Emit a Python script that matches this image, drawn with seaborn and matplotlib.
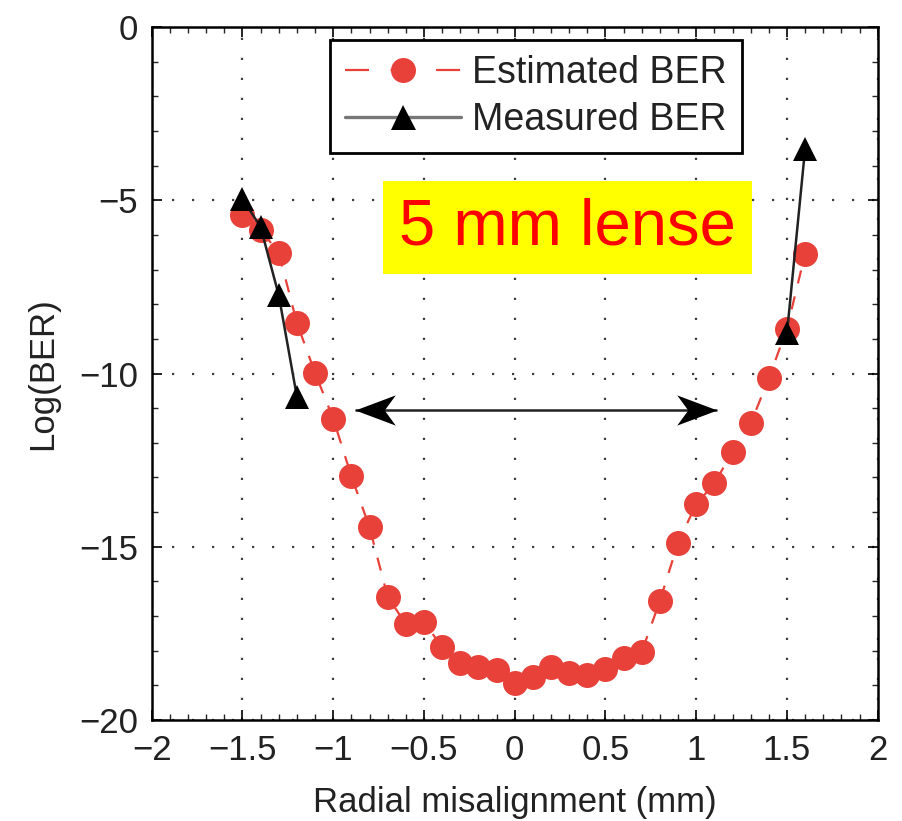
import numpy as np
import pandas as pd
import matplotlib
matplotlib.use("Agg")
import matplotlib.pyplot as plt
from matplotlib.lines import Line2D
from matplotlib.path import Path
from matplotlib.ticker import MultipleLocator
import seaborn as sns

# ---- data ----
est_x = [-1.5, -1.4, -1.3, -1.2, -1.1, -1.0, -0.9, -0.8, -0.7, -0.6, -0.5, -0.4,
         -0.3, -0.2, -0.1, 0.0, 0.1, 0.2, 0.3, 0.4, 0.5, 0.6, 0.7, 0.8, 0.9, 1.0,
         1.1, 1.2, 1.3, 1.4, 1.5, 1.6]
est_y = [-5.43, -5.86, -6.51, -8.54, -9.98, -11.3, -12.96, -14.44, -16.44, -17.23,
         -17.16, -17.9, -18.36, -18.46, -18.57, -18.94, -18.75, -18.46, -18.65,
         -18.7, -18.53, -18.22, -18.03, -16.56, -14.88, -13.77, -13.17, -12.26,
         -11.44, -10.14, -8.70, -6.54]
meas_x = [-1.5, -1.4, -1.3, -1.2, 1.5, 1.6]
meas_y = [-4.95, -5.77, -7.74, -10.67, -8.84, -3.51]
meas_seg = [0, 0, 0, 0, 1, 1]

x_ticks = [-2, -1.5, -1, -0.5, 0, 0.5, 1, 1.5, 2]
x_ticklabels = ["\u22122", "\u22121.5", "\u22121", "\u22120.5", "0", "0.5", "1", "1.5", "2"]
y_ticks = [-20, -15, -10, -5, 0]
y_ticklabels = ["\u221220", "\u221215", "\u221210", "\u22125", "0"]

arrow_x = [-0.88, 1.115]
arrow_y = [-11.05, -11.05]
label_pos = (0.29, -5.78)

# ---- style ----
sns.set_theme(style="white")
plt.rcParams["font.family"] = ["Liberation Sans", "DejaVu Sans"]

RED = "#E8413A"

fig = plt.figure(figsize=(9.03, 8.21), dpi=100)
ax = fig.add_axes([0.168, 0.123, 0.804, 0.844])

est_df = pd.DataFrame({"x": est_x, "y": est_y})
meas_df = pd.DataFrame({"x": meas_x, "y": meas_y, "seg": meas_seg})

sns.lineplot(data=est_df, x="x", y="y", ax=ax, color=RED, linestyle=(0, (6, 6)),
             linewidth=1.6, marker="o", markersize=18, markeredgewidth=0,
             markerfacecolor=RED, legend=False, estimator=None, sort=False, zorder=3)
sns.lineplot(data=meas_df, x="x", y="y", units="seg", ax=ax, color="#222222",
             linewidth=1.8, marker="^", markersize=17, markeredgewidth=0,
             markerfacecolor="black", legend=False, estimator=None, sort=False, zorder=4)

ax.set_xlim(-2, 2)
ax.set_ylim(-20, 0)
ax.set_xticks(x_ticks)
ax.set_xticklabels(x_ticklabels)
ax.set_yticks(y_ticks)
ax.set_yticklabels(y_ticklabels)
ax.xaxis.set_minor_locator(MultipleLocator(0.1))
ax.yaxis.set_minor_locator(MultipleLocator(1))
ax.tick_params(axis="both", which="major", direction="in", length=7, width=1.2,
               labelsize=25, colors="black", top=True, right=True, pad=10)
ax.tick_params(axis="both", which="minor", direction="in", length=4, width=1.0,
               top=True, right=True)
ax.tick_params(axis="both", which="both", bottom=True, left=True)
for lbl in ax.get_xticklabels() + ax.get_yticklabels():
    lbl.set_color("#222222")

ax.grid(True, which="major", color="black", linestyle=(0, (1, 8)), linewidth=1.6, alpha=0.75)
for s in ax.spines.values():
    s.set_visible(True)
    s.set_color("black")
    s.set_linewidth(1.8)

ax.set_xlabel("Radial misalignment (mm)", fontsize=25, color="#222222", labelpad=14)
ax.set_ylabel("Log(BER)", fontsize=25, color="#222222", labelpad=14)

# double arrow: shaft + concave heads
ax.plot(arrow_x, arrow_y, color="#222222", lw=1.8, zorder=5, solid_capstyle="butt")
head_r = Path([(0, 0), (-2, 0.75), (-1.45, 0), (-2, -0.75), (0, 0)],
              [Path.MOVETO, Path.LINETO, Path.LINETO, Path.LINETO, Path.CLOSEPOLY])
head_l = Path([(0, 0), (2, 0.75), (1.45, 0), (2, -0.75), (0, 0)],
              [Path.MOVETO, Path.LINETO, Path.LINETO, Path.LINETO, Path.CLOSEPOLY])
ax.plot([arrow_x[1]], [arrow_y[1]], marker=head_r, markersize=58, color="black",
        markeredgewidth=0, linestyle="none", zorder=6)
ax.plot([arrow_x[0]], [arrow_y[0]], marker=head_l, markersize=58, color="black",
        markeredgewidth=0, linestyle="none", zorder=6)

# label
ax.text(label_pos[0], label_pos[1], "5 mm lense", fontsize=47, color="#FF0000",
        ha="center", va="center",
        bbox=dict(boxstyle="square,pad=0.25", facecolor="#FFFF00", edgecolor="none"),
        zorder=7)

handles = [
    Line2D([], [], color=RED, linestyle=(0, (10.8, 9.7)), linewidth=1.6, marker="o",
           markersize=18, markeredgewidth=0, markerfacecolor=RED),
    Line2D([], [], color="#777777", linestyle="-", linewidth=2.4, marker="^",
           markersize=18, markeredgewidth=0, markerfacecolor="black"),
]
leg = ax.legend(handles, ["Estimated BER", "Measured BER"], loc="upper left",
                bbox_to_anchor=(0.245, 0.981), borderaxespad=0, fontsize=27,
                handlelength=3.1, numpoints=1, frameon=True, fancybox=False,
                edgecolor="black", framealpha=1, borderpad=0.4, labelspacing=0.28,
                handletextpad=0.3)
leg.get_frame().set_linewidth(2.0)
for t in leg.get_texts():
    t.set_color("#222222")

fig.savefig("out.png", dpi=100)
